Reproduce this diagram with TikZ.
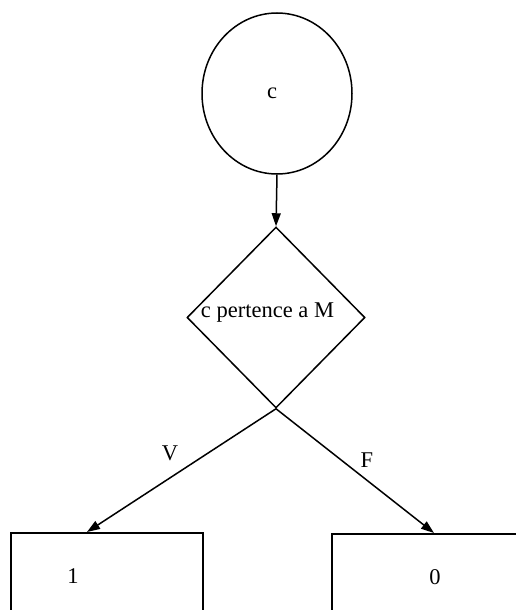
\documentclass[tikz,border=0pt]{standalone}
\usepackage{fontspec}
\setmainfont{Liberation Serif}
\usetikzlibrary{shapes.geometric,arrows.meta}
\begin{document}
\begin{tikzpicture}[x=1pt,y=-1pt,
  every node/.style={font=\fontsize{22.5}{24}\selectfont},
  shapeline/.style={draw=black,line width=1.5pt,inner sep=0pt},
  conn/.style={draw=black,line width=1.5pt,-{Triangle[length=13pt,width=9pt]}},
  txt/.style={inner sep=0pt}]
\useasboundingbox (0,0) rectangle (516,610);
\begin{scope}
\clip (0,0) rectangle (516,610);
\node[shapeline,ellipse,minimum width=150pt,minimum height=161pt] (start) at (277,93.5) {};
\node[txt] (starttxt) at (272,93) {c};
\node[shapeline,diamond,minimum width=178pt,minimum height=181pt] (dec) at (276,317.5) {};
\node[txt] (dectxt) at (267.5,313) {c pertence a M};
\node[shapeline,rectangle,minimum width=192pt,minimum height=100pt,anchor=north west] (one) at (10,532) {};
\node[txt] (onetxt) at (73,576) {1};
\node[shapeline,rectangle,minimum width=210pt,minimum height=100pt,anchor=north west] (zero) at (331,533) {};
\node[txt] (zerotxt) at (435,577) {0};
\coordinate (t1) at (87,532);
\coordinate (t0) at (434,533);
\draw[conn] (start.south) -- (dec.north);
\draw[conn] (dec.south) -- (t1);
\draw[conn] (dec.south) -- (t0);
\node[txt] (vlab) at (170,453) {V};
\node[txt] (flab) at (367,460) {F};
\end{scope}
\end{tikzpicture}
\end{document}
